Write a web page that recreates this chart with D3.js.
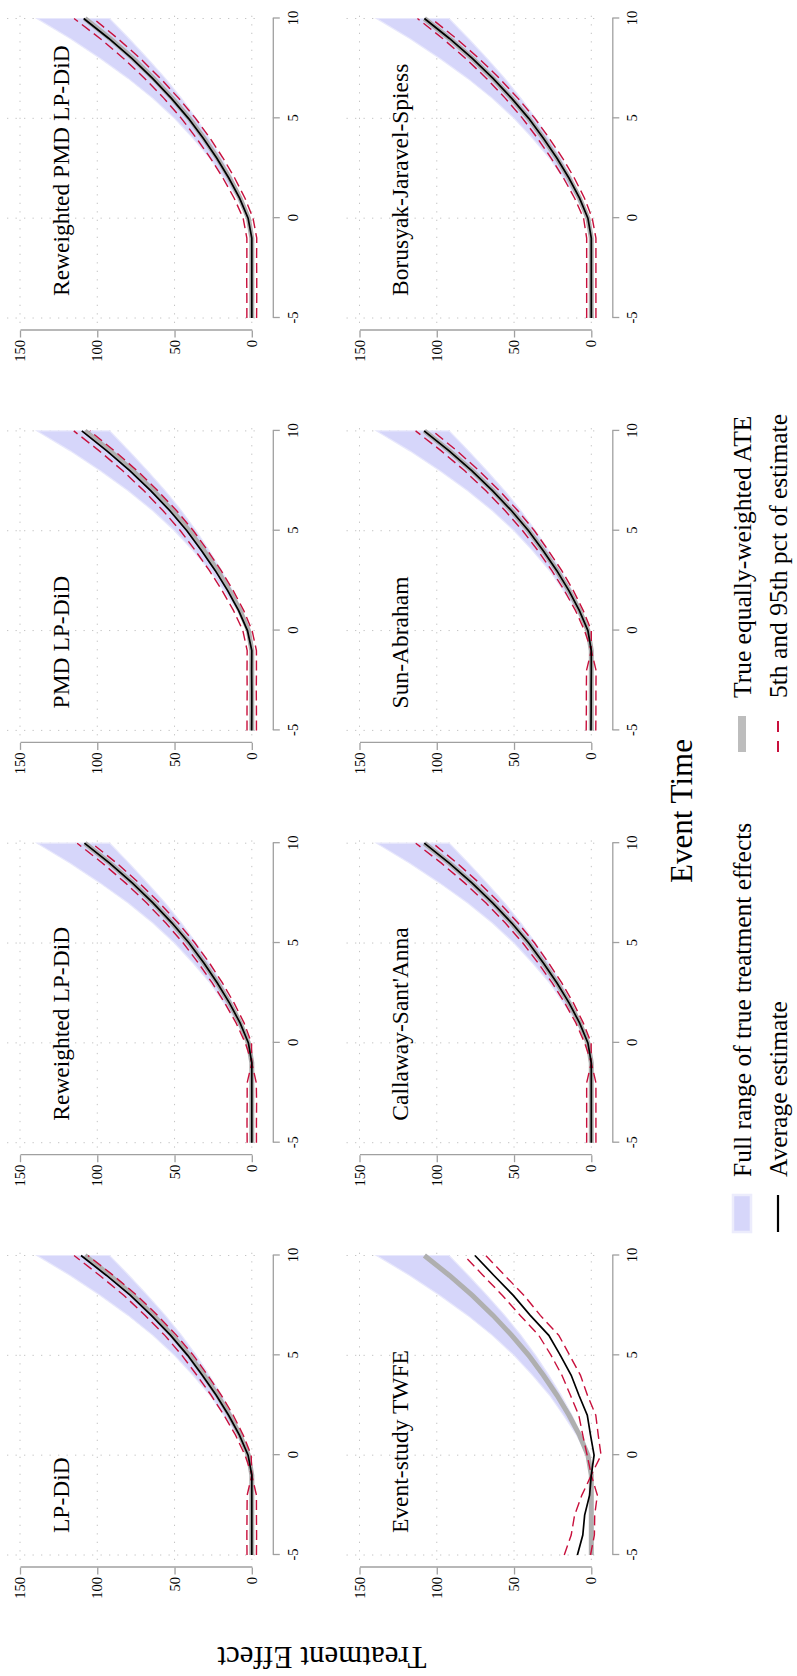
<!DOCTYPE html>
<html>
<head>
<meta charset="utf-8">
<script src="https://cdn.jsdelivr.net/npm/d3@7"></script>
<style>
  body { margin: 0; background: #fff; }
  svg { display: block; }
  text { font-family: "Liberation Serif", "Times New Roman", serif; fill: #000; }
</style>
</head>
<body>
<svg id="chart" width="797" height="1676"></svg>
<script>
// ---------------- DATA ----------------
const eventTime = [-5, -4, -3, -2, -1, 0, 1, 2, 3, 4, 5, 6, 7, 8, 9, 10];
const xTicks = [-5, 0, 5, 10];
const yTicks = [0, 50, 100, 150];

const panelNames = ["LP-DiD", "Reweighted LP-DiD", "PMD LP-DiD", "Reweighted PMD LP-DiD",
                    "Event-study TWFE", "Callaway-Sant'Anna", "Sun-Abraham", "Borusyak-Jaravel-Spiess"];

// true effects
const trueATE   = [0, 0, 0, 0, 0, 2.2, 7.6, 14.4, 22.2, 31.0, 40.5, 51.5, 63.6, 77.0, 91.8, 108.0];
const rangeHigh = [0, 0, 0, 0, 0, 2.8, 9.5, 18.0, 27.0, 38.0, 50.0, 64.0, 80.0, 98.0, 117.5, 139.0];
const rangeLow  = [0, 0, 0, 0, 0, 1.7, 6.5, 12.5, 19.5, 27.5, 36.0, 45.5, 56.0, 67.5, 79.5, 92.0];

// average estimates and 5th / 95th percentiles per estimator
const lpdidEst = [0, 0, 0, 0, 0, 2.4, 8.0, 15.0, 23.0, 32.0, 41.5, 52.5, 65.0, 78.5, 94.0, 110.5];
const lpdidHi  = [3.1, 3.2, 3.1, 3.0, 0, 4.4, 10.5, 18.0, 26.3, 35.5, 45.2, 56.3, 69.0, 82.7, 98.4, 115.0];
const lpdidLo  = [-3.0, -3.1, -3.0, -3.0, 0, 0.4, 5.5, 12.0, 19.7, 28.5, 37.8, 48.7, 61.0, 74.3, 89.6, 106.0];

const rwLpdidEst = [0, 0, 0, 0, 0, 2.2, 7.6, 14.5, 22.3, 31.0, 40.6, 51.6, 63.8, 77.2, 92.0, 108.3];
const rwLpdidHi  = [3.0, 3.1, 3.0, 3.0, 0, 4.2, 10.2, 17.5, 25.6, 34.6, 44.4, 55.6, 68.0, 81.6, 96.6, 113.0];
const rwLpdidLo  = [-3.0, -3.0, -3.1, -2.9, 0, 0.2, 5.0, 11.5, 19.0, 27.4, 36.8, 47.6, 59.6, 72.8, 87.4, 103.6];

const pmdEst = [0.1, 0, 0, 0.1, 0, 2.8, 8.5, 15.6, 23.6, 32.5, 42.0, 53.0, 65.3, 78.8, 93.8, 110.0];
const pmdHi  = [3.1, 3.1, 3.0, 3.1, 3.0, 5.8, 11.8, 19.2, 27.4, 36.5, 46.2, 57.4, 69.8, 83.5, 98.7, 115.2];
const pmdLo  = [-3.0, -3.0, -2.9, -3.0, -3.0, -0.2, 5.2, 12.0, 19.8, 28.5, 37.8, 48.6, 60.8, 74.1, 88.9, 104.8];

const rwPmdEst = [0, 0, 0, 0, 0, 2.4, 7.9, 14.8, 22.6, 31.4, 41.0, 52.0, 64.2, 77.6, 92.5, 108.8];
const rwPmdHi  = [3.2, 3.2, 3.3, 3.2, 3.2, 5.6, 11.4, 18.6, 26.7, 35.8, 45.6, 56.8, 69.3, 83.0, 98.2, 115.0];
const rwPmdLo  = [-3.1, -3.2, -3.2, -3.1, -3.2, -0.8, 4.4, 11.0, 18.5, 27.0, 36.4, 47.2, 59.1, 72.2, 86.8, 102.6];

const twfeEst = [9.0, 5.5, 4.3, 1.1, 0, -1.8, 0.5, 2.6, 8.0, 13.0, 20.0, 27.5, 39.5, 50.5, 63.0, 75.3];
const twfeHi  = [17.5, 13.0, 10.8, 6.1, 0, 2.7, 5.5, 8.1, 13.5, 19.0, 26.0, 34.0, 46.0, 57.5, 70.0, 82.3];
const twfeLo  = [0.5, -2.0, -2.2, -3.9, 0, -6.3, -4.5, -2.9, 2.5, 7.0, 14.0, 21.0, 33.0, 43.5, 56.0, 68.3];

const csEst = [0, 0, 0, 0, 0, 2.2, 7.6, 14.4, 22.2, 31.0, 40.5, 51.5, 63.7, 77.1, 91.9, 108.1];
const csHi  = [3.0, 3.0, 3.0, 3.0, 0, 4.3, 10.0, 17.2, 25.3, 34.4, 44.3, 55.6, 68.1, 81.8, 97.0, 113.6];
const csLo  = [-3.0, -3.0, -3.0, -3.0, 0, 0.1, 5.2, 11.6, 19.1, 27.6, 36.7, 47.4, 59.3, 72.4, 86.8, 102.6];

const saEst = [0.2, 0.1, 0.1, 0, 0, 2.2, 7.7, 14.5, 22.3, 31.1, 40.6, 51.6, 63.8, 77.2, 92.0, 108.2];
const saHi  = [3.3, 3.2, 3.2, 3.1, 0, 4.4, 10.2, 17.4, 25.5, 34.5, 44.4, 55.7, 68.2, 81.9, 97.1, 113.7];
const saLo  = [-2.9, -3.0, -3.0, -3.1, 0, 0.0, 5.2, 11.6, 19.1, 27.7, 36.8, 47.5, 59.4, 72.5, 86.9, 102.7];

const bjsEst = [0, 0, 0, 0, 0, 2.2, 7.6, 14.4, 22.2, 31.0, 40.5, 51.5, 63.6, 77.0, 91.8, 108.0];
const bjsHi  = [3.0, 3.0, 3.0, 3.0, 3.0, 5.0, 10.8, 17.9, 25.9, 34.8, 44.5, 55.6, 67.8, 81.3, 96.2, 112.5];
const bjsLo  = [-3.0, -3.0, -3.0, -3.0, -3.0, -0.6, 4.4, 10.9, 18.5, 27.2, 36.5, 47.4, 59.4, 72.7, 87.4, 103.5];

const legendLabels = ["Full range of true treatment effects", "True equally-weighted ATE",
                      "Average estimate", "5th and 95th pct of estimate"];
const xTitle = "Event Time";
const yTitle = "Treatment Effect";

// ---------------- DRAW ----------------
const panels = [
  { name: panelNames[0], est: lpdidEst,   hi: lpdidHi,   lo: lpdidLo },
  { name: panelNames[1], est: rwLpdidEst, hi: rwLpdidHi, lo: rwLpdidLo },
  { name: panelNames[2], est: pmdEst,     hi: pmdHi,     lo: pmdLo },
  { name: panelNames[3], est: rwPmdEst,   hi: rwPmdHi,   lo: rwPmdLo },
  { name: panelNames[4], est: twfeEst,    hi: twfeHi,    lo: twfeLo },
  { name: panelNames[5], est: csEst,      hi: csHi,      lo: csLo },
  { name: panelNames[6], est: saEst,      hi: saHi,      lo: saLo },
  { name: panelNames[7], est: bjsEst,     hi: bjsHi,     lo: bjsLo }
];

const BLUE = "#d6d6fa", GRAY = "#afafaf", RED = "#c8103c", AXIS = "#a0a0a0", GRID = "#c4c4c4";

const svg = d3.select("#chart");
svg.append("rect").attr("width", 797).attr("height", 1676).attr("fill", "#fff");
// whole figure is drawn landscape (1676 x 797) and turned a quarter turn
const g = svg.append("g").attr("transform", "translate(0,1676) rotate(-90)");

const colLeft = [121, 533.3, 945.6, 1358];
const rowTop = [20, 359.5];
const PW = 299.5, PH = 231.8;

panels.forEach((p, i) => {
  const col = i % 4, row = Math.floor(i / 4);
  const left = colLeft[col], top = rowTop[row];
  const x = d3.scaleLinear().domain([-5, 10]).range([left, left + PW]);
  const y = d3.scaleLinear().domain([0, 150]).range([top + PH, top]);
  const pg = g.append("g");

  // grid
  pg.selectAll(".gx").data(xTicks).enter().append("line")
    .attr("x1", d => x(d)).attr("x2", d => x(d))
    .attr("y1", y(150) - 13).attr("y2", y(0) + 8)
    .attr("stroke", GRID).attr("stroke-width", 1).attr("stroke-dasharray", "1.3 7.2");
  pg.selectAll(".gy").data(yTicks).enter().append("line")
    .attr("y1", d => y(d)).attr("y2", d => y(d))
    .attr("x1", x(-5) - 5).attr("x2", x(10) + 6)
    .attr("stroke", GRID).attr("stroke-width", 1).attr("stroke-dasharray", "1.3 7.2");

  // band of true effects
  const area = d3.area()
    .x((d, j) => x(eventTime[j]))
    .y0((d, j) => y(rangeLow[j]))
    .y1((d, j) => y(rangeHigh[j]));
  pg.append("path").datum(eventTime).attr("d", area)
    .attr("fill", BLUE).attr("stroke", "#e8e8fc").attr("stroke-width", 1.2);

  const line = arr => d3.line().x((d, j) => x(eventTime[j])).y((d, j) => y(arr[j]))(eventTime);

  pg.append("path").attr("d", line(trueATE)).attr("fill", "none")
    .attr("stroke", GRAY).attr("stroke-width", 5);
  [p.hi, p.lo].forEach(arr => {
    pg.append("path").attr("d", line(arr)).attr("fill", "none")
      .attr("stroke", RED).attr("stroke-width", 1.4).attr("stroke-dasharray", "10 5");
  });
  pg.append("path").attr("d", line(p.est)).attr("fill", "none")
    .attr("stroke", "#000").attr("stroke-width", 1.7);

  // axes
  const ax = pg.append("g").attr("transform", `translate(0,${y(0) + 21})`)
    .call(d3.axisBottom(x).tickValues(xTicks).tickSize(7).tickSizeOuter(0)
      .tickPadding(7.5).tickFormat(d => String(d)));
  const ay = pg.append("g").attr("transform", `translate(${x(-5) - 12.5},0)`)
    .call(d3.axisLeft(y).tickValues(yTicks).tickSize(7).tickSizeOuter(0)
      .tickPadding(2.5).tickFormat(d => String(d)));
  [ax, ay].forEach(a => {
    a.attr("font-family", null).attr("font-size", 14.5);
    a.selectAll("path, line").attr("stroke", AXIS).attr("stroke-width", 1.3);
    a.selectAll("text").attr("fill", "#000");
  });

  // panel title
  pg.append("text").attr("x", x(-5) + 22).attr("y", top + 48.5)
    .attr("font-size", 23.5).text(p.name);
});

// axis titles
g.append("text").attr("x", 865).attr("y", 692).attr("text-anchor", "middle")
  .attr("font-size", 31).text(xTitle);
g.append("text").attr("transform", "translate(29,322) rotate(-90)")
  .attr("text-anchor", "middle").attr("font-size", 31).text(yTitle);

// legend
const lg = g.append("g");
const keyX = [444, 924], textX = [499, 978], rowY = [742, 778];
// full range key
lg.append("rect").attr("x", keyX[0]).attr("y", rowY[0] - 9).attr("width", 37).attr("height", 18)
  .attr("fill", BLUE).attr("stroke", "#ececfc").attr("stroke-width", 2.5);
// true ATE key
lg.append("line").attr("x1", keyX[1]).attr("x2", keyX[1] + 36).attr("y1", rowY[0]).attr("y2", rowY[0])
  .attr("stroke", "#bdbdbd").attr("stroke-width", 8);
// average estimate key
lg.append("line").attr("x1", keyX[0]).attr("x2", keyX[0] + 37).attr("y1", rowY[1]).attr("y2", rowY[1])
  .attr("stroke", "#000").attr("stroke-width", 2.2);
// percentile key
lg.append("line").attr("x1", keyX[1]).attr("x2", keyX[1] + 36).attr("y1", rowY[1]).attr("y2", rowY[1])
  .attr("stroke", RED).attr("stroke-width", 2).attr("stroke-dasharray", "11 9");

const legendPos = [[textX[0], rowY[0]], [textX[1], rowY[0]], [textX[0], rowY[1]], [textX[1], rowY[1]]];
legendLabels.forEach((t, i) => {
  lg.append("text").attr("x", legendPos[i][0]).attr("y", legendPos[i][1] + 8.5)
    .attr("font-size", 25.5).text(t);
});
</script>
</body>
</html>
